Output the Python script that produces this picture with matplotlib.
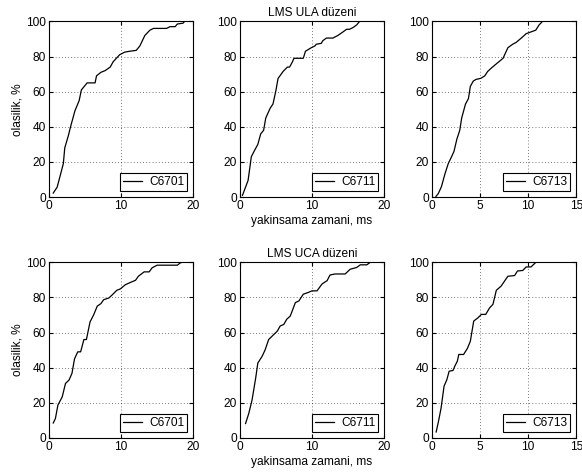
import matplotlib.pyplot as plt

plt.rcParams['font.family'] = ['Liberation Sans', 'DejaVu Sans']
plt.rcParams['font.size'] = 8.6

# ULA, C6701
ula_6701_x = [0.6, 1.15, 2.0, 2.2, 2.7, 3.0, 3.6, 4.2, 4.5, 5.3, 6.4, 6.6, 7.2, 7.8, 8.5, 8.9,
              9.8, 10.5, 11.2, 12.1, 12.6, 13.3, 14.0, 14.5, 16.3, 16.8, 17.5, 17.8, 18.6, 18.8, 20]
ula_6701_y = [2.3, 5.7, 19, 28, 35, 40, 49, 55, 61, 65, 65, 69, 71, 72, 74, 77,
              81, 82.5, 83, 83.5, 86, 92, 95, 96, 96, 97, 97, 98.5, 99, 100, 100]

# ULA, C6711
ula_6711_x = [0.37, 1.15, 1.6, 2.1, 2.5, 2.9, 3.3, 3.6, 4.2, 4.6, 5.0, 5.3, 6.0, 6.6, 6.9, 7.3,
              7.5, 8.8, 9.1, 9.9, 10.4, 10.6, 11.3, 11.5, 12.0, 12.9, 13.6, 14.3, 14.8, 15.2,
              15.7, 16.2, 16.6, 18.5]
ula_6711_y = [1, 9.5, 23, 27, 30, 36, 38, 45, 50.5, 53, 60.5, 67.5, 71.5, 74, 74, 77,
              79, 79, 83, 85, 86, 87, 87.5, 89, 90.5, 90.5, 92, 94, 95.5, 95.5,
              96.5, 98, 100, 100]

# ULA, C6713
ula_6713_x = [0.43, 0.67, 1.0, 1.35, 1.7, 2.05, 2.3, 2.6, 2.9, 3.1, 3.25, 3.5, 3.8, 4.0, 4.3,
              4.6, 5.1, 5.5, 5.8, 6.3, 6.85, 7.4, 7.9, 8.4, 8.75, 9.3, 9.8, 10.3, 10.8, 11.15,
              11.5, 11.8]
ula_6713_y = [0.4, 2, 6, 13, 19, 23, 26, 33, 38, 45, 48, 53, 56, 63, 66,
              67, 67.6, 69, 71.5, 74, 76.5, 79, 85, 87, 88, 90.5, 93, 94, 95, 98,
              100, 100]

# UCA, C6701
uca_6701_x = [0.6, 0.9, 1.25, 1.85, 2.3, 2.8, 3.2, 3.55, 4.0, 4.4, 4.85, 5.2, 5.7, 6.2, 6.7,
              7.2, 7.6, 8.3, 8.8, 9.4, 9.9, 10.6, 11.3, 12.0, 12.4, 13.2, 13.9, 14.3, 15.0,
              17.8, 18.2, 18.5]
uca_6701_y = [8.5, 11, 18.7, 23.4, 31, 33, 36.8, 45, 49, 49, 56, 56, 66, 70, 75,
              76.4, 78.7, 79.6, 81.5, 84, 84.8, 87.2, 88.5, 89.7, 92, 94.5, 94.5, 96.8, 98.3,
              98.3, 99.6, 100]

# UCA, C6711
uca_6711_x = [0.8, 1.25, 1.7, 2.2, 2.5, 3.1, 3.5, 4.0, 4.5, 5.2, 5.6, 6.1, 6.5, 7.0, 7.7,
              8.2, 8.8, 9.5, 10.0, 10.7, 11.4, 12.1, 12.5, 13.2, 14.6, 15.3, 16.2, 16.7,
              17.6, 18.1]
uca_6711_y = [8.2, 14, 21.6, 34, 42.6, 46.5, 50, 56, 58, 60.8, 63.7, 64.6, 67.5, 69.4, 77,
              78, 81.8, 82.8, 83.7, 83.7, 87.6, 89.5, 92.7, 93.3, 93.3, 96, 97, 98.5,
              98.5, 100]

# UCA, C6713
uca_6713_x = [0.45, 0.7, 0.96, 1.27, 1.55, 1.8, 2.2, 2.4, 2.65, 2.8, 3.3, 3.7, 4.0, 4.35,
              4.8, 5.15, 5.6, 6.0, 6.35, 6.7, 7.2, 7.9, 8.6, 8.9, 9.45, 9.8, 10.3, 10.75, 10.8]
uca_6713_y = [3.4, 9.7, 17, 29.5, 33, 38, 38.4, 41, 43.7, 47.5, 47.5, 51, 55, 66.5,
              68.4, 70.3, 70.3, 74, 76, 84, 86.4, 92, 92.4, 95, 95.3, 97.3, 97.3, 99.6, 100]

series = [
    [(ula_6701_x, ula_6701_y, 'C6701', 20), (ula_6711_x, ula_6711_y, 'C6711', 20),
     (ula_6713_x, ula_6713_y, 'C6713', 15)],
    [(uca_6701_x, uca_6701_y, 'C6701', 20), (uca_6711_x, uca_6711_y, 'C6711', 20),
     (uca_6713_x, uca_6713_y, 'C6713', 15)],
]
titles = ['LMS ULA düzeni', 'LMS UCA düzeni']

fig = plt.figure(figsize=(5.82, 4.75), dpi=100)
lefts = [0.084, 0.412, 0.742]
bottoms = [0.585, 0.078]

for r in range(2):
    for c in range(3):
        x, y, name, xmax = series[r][c]
        ax = fig.add_axes([lefts[c], bottoms[r], 0.248, 0.370])
        ax.plot(x, y, color='black', lw=0.9, label=name)
        ax.set_xlim(0, xmax)
        ax.set_ylim(0, 100)
        if xmax == 20:
            ax.set_xticks([0, 10, 20])
        else:
            ax.set_xticks([0, 5, 10, 15])
        ax.set_yticks([0, 20, 40, 60, 80, 100])
        ax.grid(True, linestyle=(0, (1, 3.5)), color='black', lw=0.5)
        ax.tick_params(direction='in', top=True, right=True, length=3, pad=2)
        for s in ax.spines.values():
            s.set_linewidth(0.8)
        leg = ax.legend(loc='lower right', fancybox=False, edgecolor='black',
                        framealpha=1, handlelength=1.6, handletextpad=0.6,
                        borderaxespad=0.5, borderpad=0.25, fontsize=8.6)
        leg.get_frame().set_linewidth(0.8)
        if c == 0:
            ax.set_ylabel('olasilik, %', labelpad=2)
        if c == 1:
            ax.set_title(titles[r], fontsize=8.6, pad=4)
            ax.set_xlabel('yakinsama zamani, ms', labelpad=2)

fig.savefig('out.png', dpi=100)
